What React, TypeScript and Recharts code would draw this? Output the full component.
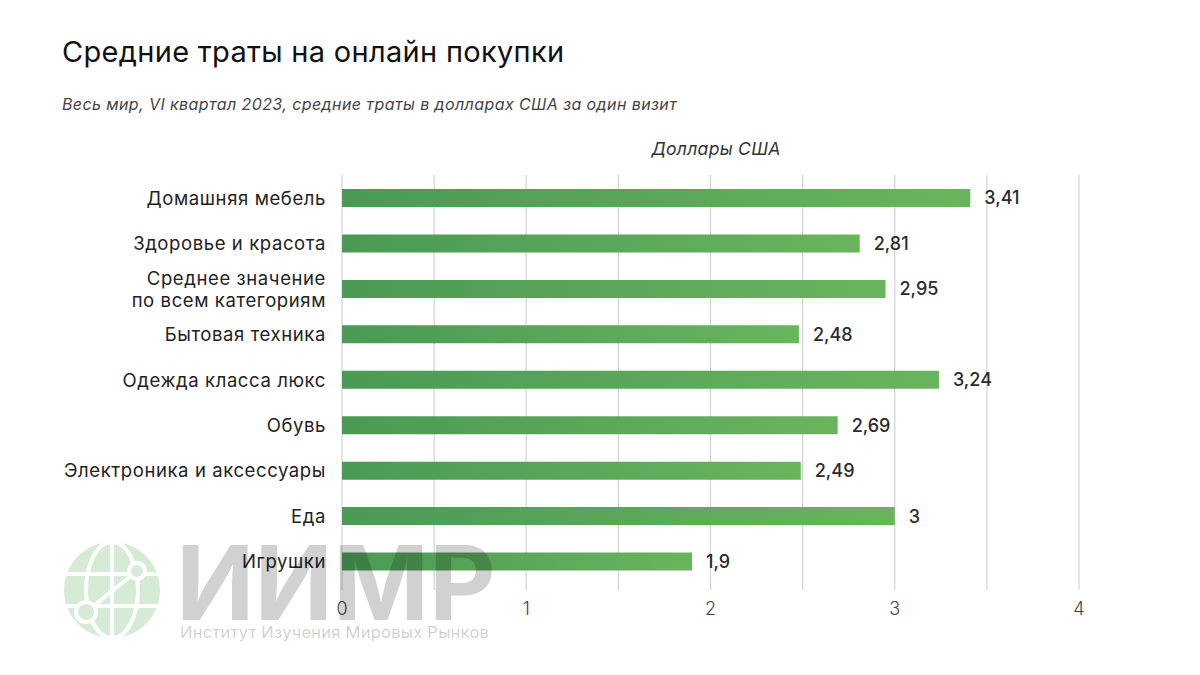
import {
  BarChart,
  Bar,
  XAxis,
  YAxis,
  CartesianGrid,
  LabelList,
} from "recharts";

const categories = [
  "Домашняя мебель",
  "Здоровье и красота",
  "Среднее значение\nпо всем категориям",
  "Бытовая техника",
  "Одежда класса люкс",
  "Обувь",
  "Электроника и аксессуары",
  "Еда",
  "Игрушки",
];
const values = [3.41, 2.81, 2.95, 2.48, 3.24, 2.69, 2.49, 3, 1.9];
const valueLabels = ["3,41", "2,81", "2,95", "2,48", "3,24", "2,69", "2,49", "3", "1,9"];
const gridTicks = [0, 0.5, 1, 1.5, 2, 2.5, 3, 3.5, 4];
const tickLabels = ["0", "1", "2", "3", "4"];

const data = categories.map((name, i) => ({
  name,
  value: values[i],
  label: valueLabels[i],
}));

const FONT = "Inter, 'Open Sans', sans-serif";

const CategoryTick = (props: any) => {
  const { y, payload } = props;
  const lines = String(payload.value).split("\n");
  const lh = 22;
  const start = y - ((lines.length - 1) * lh) / 2;
  return (
    <text
      x={326}
      y={start}
      textAnchor="end"
      dominantBaseline="central"
      fontSize={18.5}
      letterSpacing={0.6}
      fill="#222"
      fontFamily={FONT}
    >
      {lines.map((l, i) => (
        <tspan key={i} x={326} y={start + i * lh}>
          {l}
        </tspan>
      ))}
    </text>
  );
};

const ValueTick = (props: any) => {
  const { x, payload } = props;
  if (!Number.isInteger(payload.value)) return null;
  return (
    <text
      x={x}
      y={608}
      textAnchor="middle"
      dominantBaseline="central"
      fontSize={18}
      fontWeight={300}
      fill="#444"
      fontFamily={FONT}
    >
      {tickLabels[payload.value]}
    </text>
  );
};

const Watermark = () => (
  <svg
    width={1200}
    height={675}
    style={{ position: "absolute", left: 0, top: 0, pointerEvents: "none" }}
  >
    <g>
      <circle cx={112} cy={590} r={48} fill="#d6ebd5" />
      <g stroke="#fff" strokeWidth={4} fill="none">
        <line x1={112} y1={542} x2={112} y2={638} />
        <ellipse cx={112} cy={590} rx={26} ry={48} />
        <line x1={66} y1={574} x2={158} y2={574} />
        <line x1={66} y1={606} x2={158} y2={606} />
        <line x1={86} y1={612} x2={137} y2={571} />
      </g>
      <circle cx={86} cy={612} r={10} fill="#d6ebd5" stroke="#fff" strokeWidth={4} />
      <circle cx={137} cy={571} r={8} fill="#d6ebd5" stroke="#fff" strokeWidth={4} />
    </g>
    <text
      x={176}
      y={620}
      fontSize={103}
      fontWeight={700}
      fill="#000"
      fillOpacity={0.18}
      fontFamily={FONT}
    >
      ИИМР
    </text>
    <text
      x={180}
      y={638}
      fontSize={16.5}
      letterSpacing={0.25}
      fill="#000"
      fillOpacity={0.2}
      fontFamily={FONT}
    >
      Институт Изучения Мировых Рынков
    </text>
  </svg>
);

export default function App() {
  return (
    <div
      style={{
        position: "absolute",
        left: 0,
        top: 0,
        width: 1200,
        height: 675,
        background: "#fff",
        fontFamily: FONT,
      }}
    >
      <div
        style={{
          position: "absolute",
          left: 62,
          top: 34,
          fontSize: 29,
          letterSpacing: 0.3,
          color: "#111",
          fontWeight: 400,
        }}
      >
        Средние траты на онлайн покупки
      </div>
      <div
        style={{
          position: "absolute",
          left: 62,
          top: 94,
          fontSize: 16,
          letterSpacing: 0.4,
          fontStyle: "italic",
          color: "#444",
        }}
      >
        Весь мир, VI квартал 2023, средние траты в долларах США за один визит
      </div>
      <div
        style={{
          position: "absolute",
          left: 616,
          width: 200,
          top: 138,
          textAlign: "center",
          fontSize: 17.5,
          letterSpacing: 0.3,
          fontStyle: "italic",
          color: "#333",
        }}
      >
        Доллары США
      </div>
      <BarChart
        width={1200}
        height={675}
        data={data}
        layout="vertical"
        margin={{ top: 175, right: 121, left: 0, bottom: 55 }}
        style={{ position: "absolute", left: 0, top: 0 }}
      >
        <defs>
          <linearGradient id="barGrad" x1="0" y1="0" x2="1" y2="0">
            <stop offset="0%" stopColor="#4a9a55" />
            <stop offset="100%" stopColor="#6bb45e" />
          </linearGradient>
        </defs>
        <CartesianGrid horizontal={false} stroke="#d2d2d2" strokeWidth={1.2} />
        <XAxis
          type="number"
          domain={[0, 4]}
          ticks={gridTicks}
          axisLine={false}
          tickLine={false}
          height={30}
          tick={<ValueTick />}
          interval={0}
        />
        <YAxis
          type="category"
          dataKey="name"
          width={342}
          axisLine={false}
          tickLine={false}
          interval={0}
          padding={{ top: 0, bottom: 6 }}
          tick={<CategoryTick />}
        />
        <Bar
          dataKey="value"
          fill="url(#barGrad)"
          barSize={18}
          isAnimationActive={false}
        >
          <LabelList
            dataKey="label"
            position="right"
            offset={14}
            fill="#2b2b2b"
            fontSize={18}
            fontWeight={500}
            fontFamily={FONT}
          />
        </Bar>
      </BarChart>
      <Watermark />
    </div>
  );
}
